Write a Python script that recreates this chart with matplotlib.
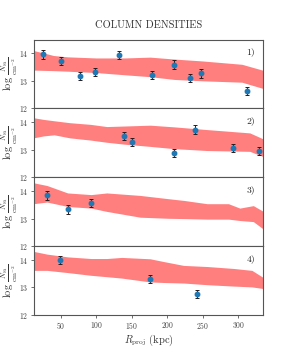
import matplotlib
matplotlib.use("Agg")
import matplotlib.pyplot as plt
import numpy as np

plt.rcParams['font.family'] = 'serif'
plt.rcParams['font.serif'] = ['cmr10', 'DejaVu Serif']
plt.rcParams['mathtext.fontset'] = 'cm'
plt.rcParams['axes.formatter.use_mathtext'] = True

# data points per panel
p1_x = [25, 51, 77, 98, 132, 178, 210, 232, 247, 312]
p1_y = [13.96, 13.72, 13.17, 13.32, 13.95, 13.2, 13.59, 13.1, 13.27, 12.64]
p2_x = [139.5, 151, 209, 239, 293, 329]
p2_y = [13.51, 13.27, 12.88, 13.73, 13.07, 12.94]
p3_x = [31, 60, 93.5]
p3_y = [13.84, 13.33, 13.56]
p4_x = [49.6, 175.5, 242.4]
p4_y = [14.0, 13.3, 12.77]
err = 0.15

# model bands
b1_x = [12, 25, 40, 60, 100, 140, 176, 210, 250, 305, 335]
b1_hi = [14.1, 14.02, 13.92, 13.87, 13.83, 13.83, 13.86, 13.79, 13.72, 13.6, 13.38]
b1_lo = [13.39, 13.38, 13.37, 13.35, 13.3, 13.22, 13.15, 13.05, 13.0, 12.95, 12.72]
b2_x = [12, 26, 41, 63, 92, 115, 140, 176, 209, 256, 316, 335]
b2_hi = [14.16, 14.1, 14.05, 13.98, 13.92, 13.84, 13.86, 13.89, 13.83, 13.73, 13.61, 13.39]
b2_lo = [13.43, 13.5, 13.54, 13.43, 13.35, 13.27, 13.2, 13.12, 13.04, 12.97, 12.94, 12.75]
b3_x = [12, 31, 60, 93, 115, 162, 202, 223, 256, 286, 302, 321, 335]
b3_hi = [14.3, 14.2, 13.93, 13.87, 13.93, 13.84, 13.72, 13.66, 13.54, 13.54, 13.38, 13.47, 13.26]
b3_lo = [13.54, 13.6, 13.44, 13.38, 13.26, 13.05, 13.01, 13.0, 12.98, 12.98, 12.93, 12.89, 12.62]
b4_x = [12, 31, 60, 93, 115, 136, 176, 195, 223, 256, 293, 319, 335]
b4_hi = [14.31, 14.21, 14.11, 14.05, 14.05, 14.09, 14.04, 13.94, 13.8, 13.76, 13.69, 13.62, 13.36]
b4_lo = [13.62, 13.62, 13.54, 13.44, 13.39, 13.34, 13.2, 13.18, 13.16, 13.1, 13.05, 13.02, 12.96]

labels = ['1)', '2)', '3)', '4)']
xticks = [50, 100, 150, 200, 250, 300]
yticks = [12, 13, 14]

points = [(p1_x, p1_y), (p2_x, p2_y), (p3_x, p3_y), (p4_x, p4_y)]
bands = [(b1_x, b1_lo, b1_hi), (b2_x, b2_lo, b2_hi), (b3_x, b3_lo, b3_hi), (b4_x, b4_lo, b4_hi)]

fig = plt.figure(figsize=(2.93, 3.55), dpi=100)
left, right = 33.5 / 293, 263.3 / 293
top_px, bot_px = 39.5, 315
h = (bot_px - top_px) / 4
axes = []
for i in range(4):
    y0 = 1 - (top_px + (i + 1) * h) / 355
    ax = fig.add_axes([left, y0, right - left, h / 355])
    axes.append(ax)
    bx, blo, bhi = bands[i]
    ax.fill_between(bx, blo, bhi, color='#ff7f7f', lw=0)
    px, py = points[i]
    ax.errorbar(px, py, yerr=err, fmt='o', ms=3.2, color='#1f77b4',
                ecolor='#2a1a1a', elinewidth=0.7, capsize=1.2, capthick=0.7)
    ax.set_xlim(12, 335)
    ax.set_ylim(12, 14.5)
    ax.set_yticks(yticks)
    ax.set_xticks(xticks)
    ax.tick_params(labelsize=5.5, length=2, width=0.5, colors='#333333',
                   labelcolor='#444444', pad=1.5)
    for s in ax.spines.values():
        s.set_color('#555555')
        s.set_linewidth(0.8)
    ax.set_ylabel(r'$\log\,\frac{N_{\rm Si}}{\rm cm^{-2}}$', fontsize=7.5, color='#333333')
    ax.yaxis.set_label_coords(-0.058, 0.5)
    ax.text(0.965, 0.82, labels[i], transform=ax.transAxes, ha='right', va='center',
            fontsize=7, fontweight='bold', color='#222222')
    if i < 3:
        ax.tick_params(axis='x', labelbottom=False, length=0)

axes[-1].set_xlabel(r'$R_{\rm proj}$ (kpc)', fontsize=7.5, labelpad=1, color='#333333')
fig.text((left + right) / 2, 1 - 25.5 / 355, 'COLUMN DENSITIES', ha='center', va='center',
         fontsize=7.5, color='#333333')

fig.savefig('out.png', dpi=100)
